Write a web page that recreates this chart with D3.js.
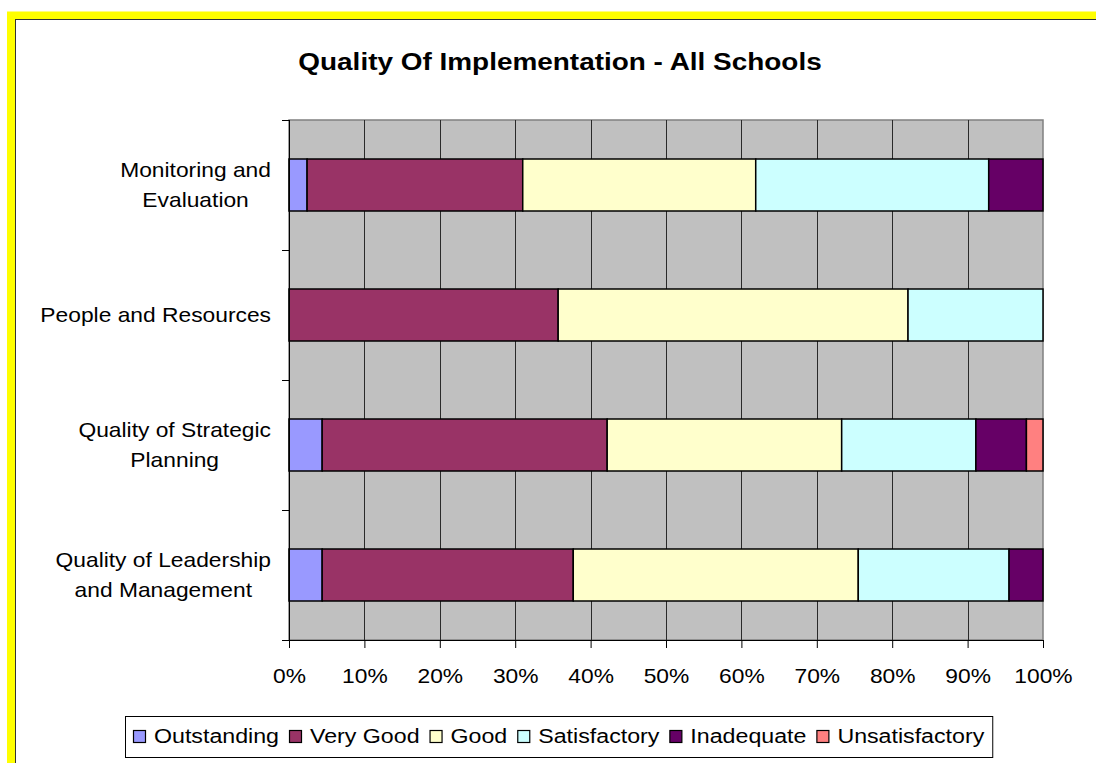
<!DOCTYPE html>
<html>
<head>
<meta charset="utf-8">
<script src="https://cdn.jsdelivr.net/npm/d3@7"></script>
<style>
  body { margin: 0; background: #fff; }
  svg text { font-family: "Liberation Sans", Arial, sans-serif; fill: #000; }
</style>
</head>
<body>
<svg id="chart" width="1096" height="763"></svg>
<script>
// categories top to bottom, each split into lines for the axis label
const categories = ['Monitoring and Evaluation', 'People and Resources', 'Quality of Strategic Planning', 'Quality of Leadership and Management']
const categoryLines = [['Monitoring and', 'Evaluation'], ['People and Resources'], ['Quality of Strategic', 'Planning'], ['Quality of Leadership', 'and Management']]

// percentage of schools per grade, same order as categories
const outstanding = [2.4, 0, 4.4, 4.4]
const veryGood = [28.6, 35.7, 37.8, 33.3]
const good = [30.9, 46.4, 31.1, 37.8]
const satisfactory = [30.9, 17.9, 17.8, 20.0]
const inadequate = [7.2, 0, 6.7, 4.5]
const unsatisfactory = [0, 0, 2.2, 0]

const seriesNames = ['Outstanding', 'Very Good', 'Good', 'Satisfactory', 'Inadequate', 'Unsatisfactory']
const seriesColors = ['#9999FF', '#993366', '#FFFFCC', '#CCFFFF', '#660066', '#FF8080']
const xTicks = [0, 10, 20, 30, 40, 50, 60, 70, 80, 90, 100]

const seriesValues = [outstanding, veryGood, good, satisfactory, inadequate, unsatisfactory]
const rows = categories.map((c, i) => {
    const row = { category: c }
    seriesNames.forEach((s, k) => row[s] = seriesValues[k][i])
    return row
})

const SX = 1.14 // excel text renders a bit wider than Arial
const svg = d3.select('#chart')

// outer yellow frame of the chart object
svg.append('rect').attr('x', 11).attr('y', 15.5).attr('width', 1200).attr('height', 900)
    .attr('fill', 'none').attr('stroke', '#FFFF00').attr('stroke-width', 8)
svg.append('rect').attr('x', 15.5).attr('y', 19.5).attr('width', 1200).attr('height', 900)
    .attr('fill', 'none').attr('stroke', '#333').attr('stroke-width', 1)

const plot = { left: 289, right: 1043, top: 120, bottom: 640 }

const x = d3.scaleLinear().domain([0, 100]).range([plot.left, plot.right])
const y = d3.scaleBand().domain(categories).range([plot.top, plot.bottom]).paddingInner(0.6).paddingOuter(0.3)
const yBand = d3.scaleBand().domain(categories).range([plot.top, plot.bottom])

// plot area
svg.append('rect').attr('x', plot.left).attr('y', plot.top)
    .attr('width', plot.right - plot.left).attr('height', plot.bottom - plot.top)
    .attr('fill', '#C0C0C0').attr('stroke', '#808080').attr('stroke-width', 1.5)

svg.append('g').selectAll('line').data(xTicks.slice(1, -1)).enter().append('line')
    .attr('x1', d => Math.round(x(d)) + 0.5).attr('x2', d => Math.round(x(d)) + 0.5)
    .attr('y1', plot.top).attr('y2', plot.bottom)
    .attr('stroke', '#2a2a2a').attr('stroke-width', 1)

// stacked bars
const stacked = d3.stack().keys(seriesNames)(rows)
svg.append('g').selectAll('g').data(stacked).enter().append('g')
    .attr('fill', (d, i) => seriesColors[i])
    .selectAll('rect').data(d => d.filter(p => p[1] - p[0] > 0)).enter().append('rect')
    .attr('x', d => x(d[0]))
    .attr('width', d => x(d[1]) - x(d[0]))
    .attr('y', d => y(d.data.category))
    .attr('height', y.bandwidth())
    .attr('stroke', '#000').attr('stroke-width', 1.5)

// axes
const xAxis = svg.append('g').attr('transform', `translate(0,${plot.bottom})`)
    .call(d3.axisBottom(x).tickValues(xTicks).tickSize(8).tickFormat(d => ''))
xAxis.select('.domain').attr('stroke', '#000')
xAxis.selectAll('line').attr('stroke', '#000')

xAxis.selectAll('.tick').append('text')
    .attr('text-anchor', 'middle')
    .attr('transform', `translate(0,43) scale(${SX},1)`)
    .style('font-size', '20px')
    .text(d => d + '%')

const yAxis = svg.append('g')
yAxis.append('line').attr('x1', plot.left + 0.5).attr('x2', plot.left + 0.5)
    .attr('y1', plot.top).attr('y2', plot.bottom + 8).attr('stroke', '#000')
yAxis.selectAll('.ytick').data(categories.map(c => yBand(c)).concat([plot.bottom])).enter().append('line')
    .attr('x1', plot.left - 7).attr('x2', plot.left)
    .attr('y1', d => d + 0.5).attr('y2', d => d + 0.5).attr('stroke', '#000')

// category labels: block right-aligned, lines centred within the block
categories.forEach((c, i) => {
    const lines = categoryLines[i]
    const cy = yBand(c) + yBand.bandwidth() / 2
    const g = svg.append('g')
    const texts = lines.map((l, k) => g.append('text')
        .style('font-size', '20px')
        .attr('text-anchor', 'middle')
        .text(l))
    const maxW = d3.max(texts, t => t.node().getComputedTextLength()) * SX
    const cx = 271 - maxW / 2
    texts.forEach((t, k) => {
        const ly = cy + (k - (lines.length - 1) / 2) * 30 + 7
        t.attr('transform', `translate(${cx},${ly}) scale(${SX},1)`)
    })
})

// title
svg.append('text')
    .attr('text-anchor', 'middle')
    .attr('transform', `translate(560,70) scale(${SX},1)`)
    .style('font-size', '24.5px').style('font-weight', 'bold')
    .text('Quality Of Implementation - All Schools')

// legend
const LSX = 1.16
const legend = svg.append('g')
const legendBox = legend.append('rect').attr('x', 125.5).attr('y', 716.5).attr('height', 41)
    .attr('fill', '#fff').attr('stroke', '#000').attr('stroke-width', 1)
let lx = 133
seriesNames.forEach((s, i) => {
    legend.append('rect').attr('x', lx + 0.5).attr('y', 730.5).attr('width', 12).attr('height', 12)
        .attr('fill', seriesColors[i]).attr('stroke', '#000').attr('stroke-width', 1.2)
    const t = legend.append('text')
        .attr('transform', `translate(${lx + 21},743) scale(${LSX},1)`)
        .style('font-size', '20px')
        .text(s)
    lx += 21 + t.node().getComputedTextLength() * LSX + 10
})
legendBox.attr('width', lx - 125 - 2)
</script>
</body>
</html>
